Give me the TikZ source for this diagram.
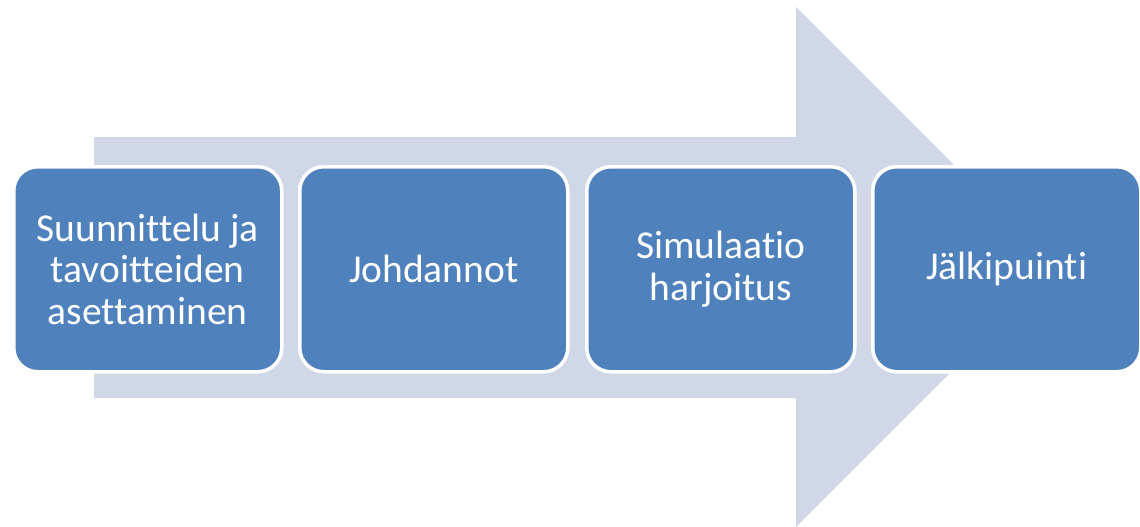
\documentclass[tikz,border=0pt]{standalone}
\usepackage{fontspec}
\setmainfont{Carlito}[Ligatures=NoCommon]
\definecolor{boxblue}{HTML}{4F81BD}
\definecolor{arrowgray}{HTML}{D0D8E8}
\begin{document}
\begin{tikzpicture}[x=1pt,y=-1pt,
  stepbox/.style={draw=white, line width=3.5pt, fill=boxblue, rounded corners=24pt,
    minimum width=268pt, minimum height=205pt, text=white, align=center,
    font=\fontsize{39.5}{41.5}\selectfont, inner sep=0pt, anchor=north west}]
\useasboundingbox (0,0) rectangle (1140,527);
\fill[arrowgray] (94,137) -- (796,137) -- (796,7) -- (1056,267) -- (796,527) -- (796,398) -- (94,398) -- cycle;
\node[stepbox] (s1) at (12,165) {Suunnittelu ja\\tavoitteiden\\asettaminen};
\node[stepbox] (s2) at (298,165) {Johdannot};
\node[stepbox] (s3) at (585,165) {Simulaatio\\harjoitus};
\node[stepbox] (s4) at (871,165) {Jälkipuinti};
\end{tikzpicture}
\end{document}
